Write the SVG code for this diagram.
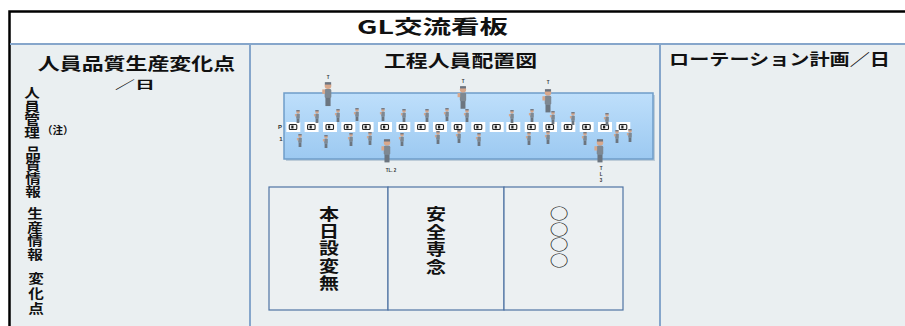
<svg xmlns="http://www.w3.org/2000/svg" xmlns:xlink="http://www.w3.org/1999/xlink" width="905" height="326" viewBox="0 0 905 326">
  <style>
    .jp { font-family: "Noto Sans CJK JP", "Noto Sans", "Liberation Sans", sans-serif; fill: #111; }
    .b { font-weight: bold; }
    .vt { writing-mode: vertical-rl; text-orientation: upright; }
    .sep { stroke: #86A6CB; stroke-width: 2; fill: none; }
    .cell { fill: #ECF0F2; stroke: #4F73A3; stroke-width: 1.2; }
    .tiny { font-family: "Liberation Sans", Arial, sans-serif; font-weight: bold; fill: #333; }
  </style>
  <defs>
    <linearGradient id="lineFill" x1="0" y1="0" x2="0" y2="1">
      <stop offset="0" stop-color="#BEDFFB"/>
      <stop offset="1" stop-color="#9CC9F1"/>
    </linearGradient>
    <!-- small standing worker, origin at top centre, about 13px tall -->
    <g id="worker">
      <circle cx="0" cy="2" r="1.8" fill="#D8A88C"/>
      <rect x="-1.7" y="0.1" width="3.4" height="1.3" fill="#6B7480"/>
      <rect x="-1.8" y="3.8" width="3.6" height="5" rx="0.8" fill="#7E8892"/>
      <rect x="-3.1" y="4" width="1.5" height="2.4" fill="#D8A88C"/>
      <rect x="-1.4" y="8.6" width="2.8" height="4.4" fill="#6C757F"/>
    </g>
    <!-- work position: white tag with a small machine icon -->
    <g id="slot">
      <rect x="-7" y="-5" width="14" height="10" fill="#FFFFFF"/>
      <rect x="-4" y="-2.5" width="7.5" height="5" rx="1" fill="#F4F4F4" stroke="#222" stroke-width="1.1"/>
      <rect x="-2" y="-1.5" width="2.2" height="3" fill="#222"/>
    </g>
  </defs>

  <!-- board background -->
  <rect x="0" y="0" width="905" height="326" fill="#FFFFFF"/>
  <rect x="10" y="12" width="895" height="32" fill="#FFFFFF"/>
  <rect x="10" y="44" width="895" height="282" fill="#EAEFF1"/>

  <!-- frame and section dividers -->
  <g id="frame">
    <path d="M9.5 326 V11.5 H905" stroke="#000" stroke-width="2.5" fill="none"/>
    <line class="sep" x1="10" y1="44" x2="905" y2="44"/>
    <line class="sep" x1="250" y1="44" x2="250" y2="326"/>
    <line class="sep" x1="660" y1="44" x2="660" y2="326"/>
  </g>

  <g id="title">
    <text class="jp b" x="357" y="34" font-size="19" textLength="151" lengthAdjust="spacingAndGlyphs">GL交流看板</text>
  </g>

  <!-- left section: daily change points -->
  <g id="change-points">
    <text class="jp b" x="0" y="70" font-size="17" text-anchor="middle" transform="translate(136.5,0) scale(1.29,1)">人員品質生産変化点</text>
    <text class="jp b" x="0" y="89" font-size="11.5" text-anchor="middle" transform="translate(135,0) scale(1.74,1)">／日</text>
    <text class="jp b vt" x="0" y="86" font-size="13" letter-spacing="0.3" transform="translate(32,0) scale(1.2,1)">人員管理</text>
    <text class="jp b" x="42" y="134" font-size="10.5">（注）</text>
    <text class="jp b vt" x="0" y="146" font-size="13" transform="translate(33,0) scale(1.2,1)">品質情報</text>
    <text class="jp b vt" x="0" y="207" font-size="13" letter-spacing="0.5" transform="translate(35,0) scale(1.2,1)">生産情報</text>
    <text class="jp b vt" x="0" y="272" font-size="13" letter-spacing="1.7" transform="translate(36,0) scale(1.2,1)">変化点</text>
  </g>

  <!-- centre section: process staffing layout -->
  <g id="layout">
    <text class="jp b" x="384" y="67" font-size="17" textLength="153" lengthAdjust="spacingAndGlyphs">工程人員配置図</text>

    <rect x="286" y="95" width="369" height="66" fill="#9FB4C8" opacity="0.6"/>
    <rect x="284" y="93" width="369" height="66" fill="url(#lineFill)" stroke="#6F9DC9" stroke-width="1.5"/>

    <text class="tiny" font-size="6" text-anchor="middle"><tspan x="280" y="129">P</tspan><tspan x="281" y="141">1</tspan></text>

    <g id="slots" transform="translate(0,127)">
      <use xlink:href="#slot" x="293.3"/>
      <use xlink:href="#slot" x="311.6"/>
      <use xlink:href="#slot" x="330"/>
      <use xlink:href="#slot" x="348.3"/>
      <use xlink:href="#slot" x="366.6"/>
      <use xlink:href="#slot" x="385"/>
      <use xlink:href="#slot" x="403.3"/>
      <use xlink:href="#slot" x="421.6"/>
      <use xlink:href="#slot" x="440"/>
      <use xlink:href="#slot" x="458.3"/>
      <use xlink:href="#slot" x="478.3"/>
      <use xlink:href="#slot" x="496.7"/>
      <use xlink:href="#slot" x="513.3"/>
      <use xlink:href="#slot" x="531.7"/>
      <use xlink:href="#slot" x="550"/>
      <use xlink:href="#slot" x="568.3"/>
      <use xlink:href="#slot" x="586.7"/>
      <use xlink:href="#slot" x="605"/>
      <use xlink:href="#slot" x="623.3"/>
    </g>

    <g id="operators-upper">
      <use xlink:href="#worker" x="298" y="110"/>
      <use xlink:href="#worker" x="317" y="110"/>
      <use xlink:href="#worker" x="338" y="109"/>
      <use xlink:href="#worker" x="357" y="108"/>
      <use xlink:href="#worker" x="383" y="108"/>
      <use xlink:href="#worker" x="404" y="109"/>
      <use xlink:href="#worker" x="427" y="109"/>
      <use xlink:href="#worker" x="447" y="108"/>
      <use xlink:href="#worker" x="467" y="109"/>
      <use xlink:href="#worker" x="512" y="110"/>
      <use xlink:href="#worker" x="532" y="109"/>
      <use xlink:href="#worker" x="553" y="111"/>
      <use xlink:href="#worker" x="573" y="112"/>
      <use xlink:href="#worker" x="607" y="113"/>
    </g>
    <g id="operators-lower">
      <use xlink:href="#worker" x="300" y="134"/>
      <use xlink:href="#worker" x="326" y="135"/>
      <use xlink:href="#worker" x="351" y="133"/>
      <use xlink:href="#worker" x="370" y="132"/>
      <use xlink:href="#worker" x="402" y="133"/>
      <use xlink:href="#worker" x="438" y="131"/>
      <use xlink:href="#worker" x="459" y="130"/>
      <use xlink:href="#worker" x="479" y="133"/>
      <use xlink:href="#worker" x="529" y="132"/>
      <use xlink:href="#worker" x="548" y="131"/>
      <use xlink:href="#worker" x="585" y="132"/>
      <use xlink:href="#worker" x="617" y="130"/>
      <use xlink:href="#worker" x="630" y="129"/>
    </g>

    <g id="team-leaders">
      <use xlink:href="#worker" transform="translate(328,82) scale(1.85)"/>
      <use xlink:href="#worker" transform="translate(463,86) scale(1.75)"/>
      <use xlink:href="#worker" transform="translate(548,89) scale(1.8)"/>
      <use xlink:href="#worker" transform="translate(387,139) scale(1.8)"/>
      <use xlink:href="#worker" transform="translate(600,139) scale(1.8)"/>
      <text class="tiny" x="328" y="79" font-size="4.5" text-anchor="middle">T</text>
      <text class="tiny" x="463" y="83" font-size="4.5" text-anchor="middle">T</text>
      <text class="tiny" x="548" y="84" font-size="4.5" text-anchor="middle">T</text>
      <text class="tiny" x="391" y="172" font-size="4.5" text-anchor="middle">TL. 2</text>
      <text class="tiny" font-size="4.5" text-anchor="middle"><tspan x="601" y="170">T</tspan><tspan x="601" y="176">L</tspan><tspan x="601" y="182">3</tspan></text>
    </g>
  </g>

  <!-- notice cells below the line layout -->
  <g id="notice-today">
    <rect class="cell" x="269" y="187" width="119" height="123"/>
    <text class="jp b vt" x="0" y="206" font-size="16" letter-spacing="1.2" transform="translate(329,0) scale(1.25,1)">本日設変無</text>
  </g>
  <g id="notice-safety">
    <rect class="cell" x="388" y="187" width="116" height="123"/>
    <text class="jp b vt" x="0" y="206" font-size="16" letter-spacing="1.5" transform="translate(436,0) scale(1.25,1)">安全専念</text>
  </g>
  <g id="notice-other">
    <rect class="cell" x="504" y="187" width="119" height="123"/>
    <text class="jp vt" x="0" y="206" font-size="15" letter-spacing="0.5" transform="translate(559,0) scale(1.25,1)">○○○○</text>
  </g>

  <!-- right section: rotation plan -->
  <g id="rotation">
    <text class="jp b" x="669" y="65" font-size="16" textLength="221" lengthAdjust="spacingAndGlyphs">ローテーション計画／日</text>
  </g>
</svg>
